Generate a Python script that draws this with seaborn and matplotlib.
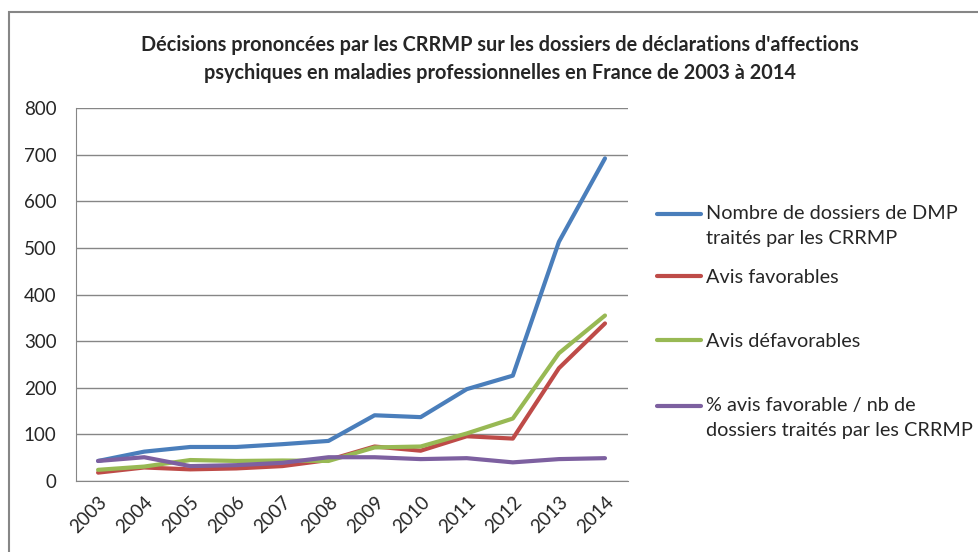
import numpy as np
import pandas as pd
import seaborn as sns
import matplotlib.pyplot as plt
from matplotlib.patches import Rectangle

years = list(range(2003, 2015))

dossiers_traites = [43, 63, 73, 73, 79, 86, 141, 137, 197, 226, 513, 692]
avis_favorables = [18, 29, 25, 27, 32, 45, 74, 65, 96, 91, 242, 338]
avis_defavorables = [24, 31, 45, 43, 44, 43, 72, 74, 102, 134, 274, 355]
pct_favorable = [43, 51, 32, 34, 39, 51, 51, 47, 49, 40, 47, 49]

labels = [
    "Nombre de dossiers de DMP\ntraités par les CRRMP",
    "Avis favorables",
    "Avis défavorables",
    "% avis favorable / nb de\ndossiers traités par les CRRMP",
]
colors = ["#4A7EBB", "#BE4B48", "#98B954", "#7D60A0"]

df = pd.DataFrame({
    "annee": years * 4,
    "valeur": dossiers_traites + avis_favorables + avis_defavorables + pct_favorable,
    "serie": [l for l in labels for _ in years],
})

sns.set_style("white")
plt.rcParams["font.family"] = ["Lato", "DejaVu Sans"]

fig = plt.figure(figsize=(9.79, 5.52), dpi=100)
ax = fig.add_axes([0.0776, 0.1286, 0.5639, 0.6757])

sns.lineplot(data=df, x="annee", y="valeur", hue="serie", hue_order=labels,
             palette=colors, linewidth=3, ax=ax, legend=False)

ax.set_xlim(2002.52, 2014.5)
ax.set_ylim(0, 800)
ax.set_yticks(range(0, 801, 100))
ax.set_xticks(years)
ax.set_xticklabels([str(y) for y in years], rotation=45, ha="right",
                   rotation_mode="anchor", fontsize=13.5)
ax.tick_params(axis="y", labelsize=13.5, pad=14, length=0)
ax.tick_params(axis="x", pad=9, length=0)
ax.grid(axis="y", color="#868686", linewidth=1)
ax.set_axisbelow(True)
for s in ["top", "right"]:
    ax.spines[s].set_visible(False)
ax.spines["left"].set_color("#868686")
ax.spines["bottom"].set_color("#868686")
ax.set_xlabel("")
ax.set_ylabel("")

fig.text(0.511, 0.894, "Décisions prononcées par les CRRMP sur les dossiers de déclarations d'affections\n"
         "psychiques en maladies professionnelles en France de 2003 à 2014",
         ha="center", va="center", fontsize=14.3, fontweight="bold", linespacing=1.5)

# one legend block per series, handle level with the first text line
first_line_y = [212, 276, 340, 404]
for lab, col, yc in zip(labels, colors, first_line_y):
    h = plt.Line2D([], [], color=col, linewidth=3)
    leg = fig.legend([h], [lab], loc="upper left",
                     bbox_to_anchor=(657 / 979, 1 - (yc - 7) / 552),
                     frameon=False, fontsize=14.3, handlelength=2.2,
                     handletextpad=0.25, borderpad=0, borderaxespad=0)
    for t in leg.get_texts():
        t.set_linespacing(1.6)
    if "\n" in lab:
        line = leg.legend_handles[0]
        line.set_ydata(np.asarray(line.get_ydata()) + 9)

fig.patches.append(Rectangle((0.0092, -0.1), 1.1, 1.078, transform=fig.transFigure,
                             fill=False, edgecolor="#868686", linewidth=1.5))

fig.savefig("out.png", dpi=100)
